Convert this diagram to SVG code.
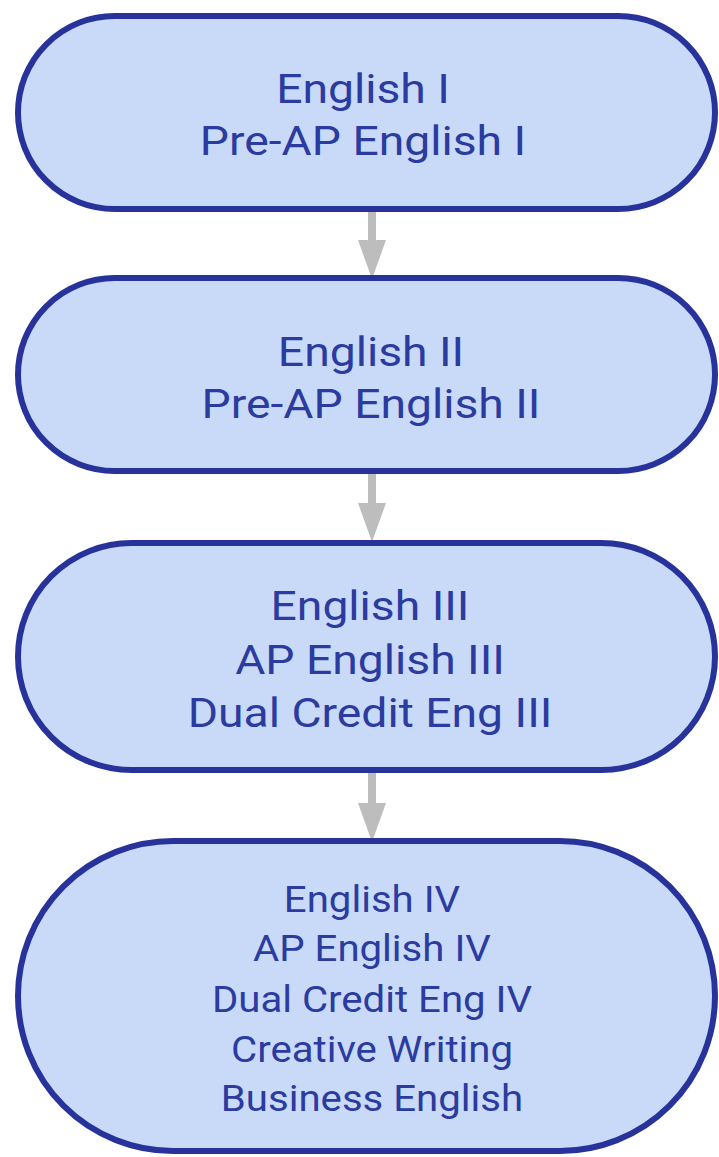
<svg xmlns="http://www.w3.org/2000/svg" width="719" height="1157" viewBox="0 0 719 1157">
<style>
.node{fill:#C9DAF8;stroke:#27339B;stroke-width:6}
.lbl{font-family:Roboto,"Liberation Sans",sans-serif;font-size:41.5px;fill:#2B3BA0;text-anchor:middle}
.sm{font-size:36.5px}
.conn{fill:#BDBDBD}
</style>
<rect width="719" height="1157" fill="#FFFFFF"/>
<g id="connectors">
<path class="conn" d="M368,209 H376 V240 H386 L372,279 L358,240 H368 Z"/>
<path class="conn" d="M368,473 H376 V503 H386 L372,542 L358,503 H368 Z"/>
<path class="conn" d="M368,772 H376 V803 H386 L372,842 L358,803 H368 Z"/>
</g>
<g id="node1">
<rect class="node" x="18" y="16" width="697" height="193" rx="96.5" ry="96.5"/>
<g transform="translate(363,0) scale(1.115,1)">
<text class="lbl" x="0" y="103">English I</text>
<text class="lbl" x="0" y="155">Pre-AP English I</text>
</g>
</g>
<g id="node2">
<rect class="node" x="18" y="278" width="697" height="193" rx="96.5" ry="96.5"/>
<g transform="translate(371,0) scale(1.115,1)">
<text class="lbl" x="0" y="366">English II</text>
<text class="lbl" x="0" y="418">Pre-AP English II</text>
</g>
</g>
<g id="node3">
<rect class="node" x="18" y="543" width="697" height="227" rx="113.5" ry="113.5"/>
<g transform="translate(370,0) scale(1.115,1)">
<text class="lbl" x="0" y="620">English III</text>
<text class="lbl" x="0" y="674">AP English III</text>
<text class="lbl" x="0" y="727">Dual Credit Eng III</text>
</g>
</g>
<g id="node4">
<rect class="node" x="18" y="841" width="697" height="310" rx="155" ry="155"/>
<g transform="translate(372,0) scale(1.1,1)">
<text class="lbl sm" x="0" y="912">English IV</text>
<text class="lbl sm" x="0" y="961">AP English IV</text>
<text class="lbl sm" x="0" y="1012">Dual Credit Eng IV</text>
<text class="lbl sm" x="0" y="1062">Creative Writing</text>
<text class="lbl sm" x="0" y="1111">Business English</text>
</g>
</g>
</svg>
